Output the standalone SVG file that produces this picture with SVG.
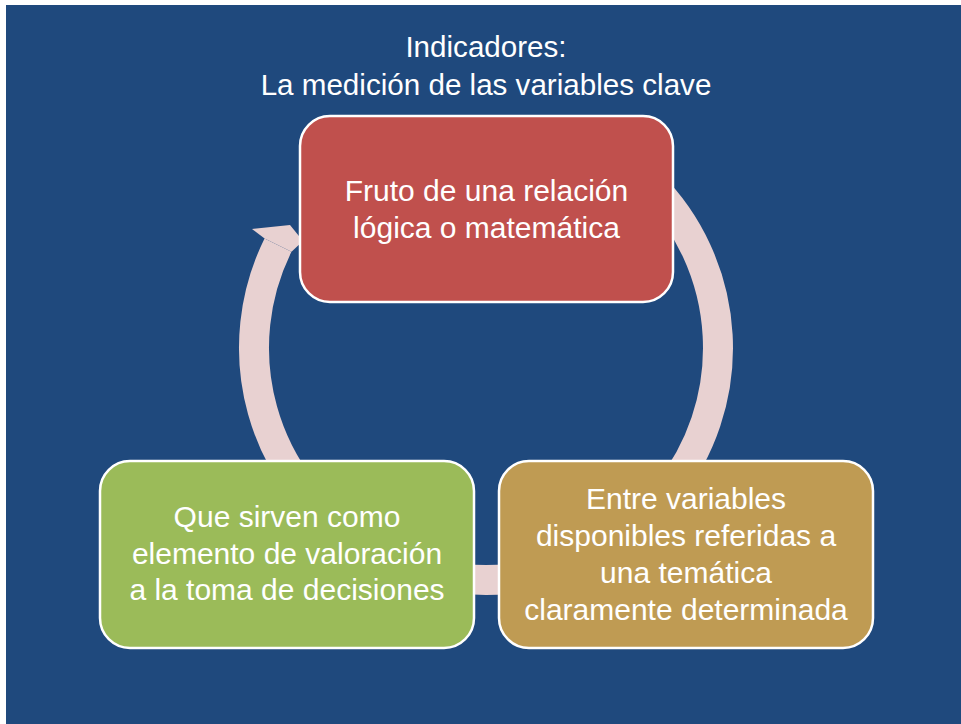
<svg xmlns="http://www.w3.org/2000/svg" width="961" height="724" viewBox="0 0 961 724">
  <style>
    .t { font-family: "Liberation Sans", Arial, sans-serif; font-size: 30px; fill: #FFFFFF; text-anchor: middle; }
    .box { stroke: #FFFFFF; stroke-width: 2.5; }
    .ring { fill: none; stroke: #E8D1D1; stroke-width: 30; }
  </style>
  <rect x="0" y="0" width="961" height="724" fill="#FFFFFF"/>
  <rect x="6" y="5" width="955" height="719" fill="#1F497D"/>
  <g id="title">
    <text class="t" x="486" y="56.5" style="font-size:29.6px">Indicadores:</text>
    <text class="t" x="486" y="95" style="font-size:29.6px">La medición de las variables clave</text>
  </g>
  <g id="connectors">
    <path class="ring" d="M 650.05 183.95 A 232 232 0 1 1 278.0 245.2"/>
    <polygon fill="#E8D1D1" points="264.6,238.6 252,229 290,225 303,241 291.5,251.8"/>
  </g>
  <g id="node-red">
    <rect class="box" x="300" y="116" width="373" height="186" rx="30" ry="30" fill="#C0504D"/>
    <text class="t" x="486.5" y="200.5">Fruto de una relación</text>
    <text class="t" x="486.5" y="238">lógica o matemática</text>
  </g>
  <g id="node-gold">
    <rect class="box" x="499" y="461" width="374" height="187" rx="30" ry="30" fill="#BF9B53"/>
    <text class="t" x="686" y="509">Entre variables</text>
    <text class="t" x="686" y="546">disponibles referidas a</text>
    <text class="t" x="686" y="583">una temática</text>
    <text class="t" x="686" y="620">claramente determinada</text>
  </g>
  <g id="node-green">
    <rect class="box" x="100" y="461" width="374" height="187" rx="30" ry="30" fill="#9BBB59"/>
    <text class="t" x="287" y="527">Que sirven como</text>
    <text class="t" x="287" y="564">elemento de valoración</text>
    <text class="t" x="287" y="600">a la toma de decisiones</text>
  </g>
</svg>
